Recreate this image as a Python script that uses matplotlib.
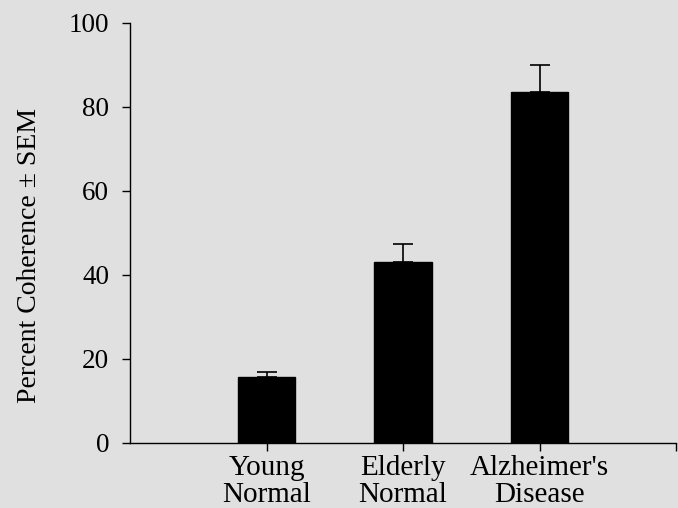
import matplotlib.pyplot as plt

groups = ['Young\nNormal', 'Elderly\nNormal', "Alzheimer's\nDisease"]
coherence = [15.7, 43.0, 83.4]
sem = [1.2, 4.3, 6.5]

bg = '#e0e0e0'
plt.rcParams['font.family'] = ['Liberation Serif', 'DejaVu Serif']

fig = plt.figure(figsize=(6.78, 5.08), dpi=100, facecolor=bg)
ax = fig.add_axes([130 / 678, 1 - 442.7 / 508, 546 / 678, 420 / 508])
ax.set_facecolor(bg)

pos = [1, 2, 3]
ax.bar(pos, coherence, width=0.42, color='black', edgecolor='black')
ax.errorbar(pos, coherence, yerr=[[0, 0, 0], sem], fmt='none',
            ecolor='black', elinewidth=1.2, capsize=7, capthick=1.2)

ax.set_xlim(0, 4)
ax.set_ylim(0, 100)
# extra unlabeled tick at the right end of the axis, as in the original
ax.set_xticks(pos + [4])
ax.set_xticklabels(groups + [''], fontsize=21, linespacing=1.05)
ax.set_yticks([0, 20, 40, 60, 80, 100])
ax.tick_params(axis='y', labelsize=19.5, length=6, width=1, pad=9)
ax.tick_params(axis='x', length=6, width=1, pad=3)
ax.set_ylabel('Percent Coherence \u00b1 SEM', fontsize=20)
ax.yaxis.set_label_coords(-0.162, 0.445)

for s in ['top', 'right']:
    ax.spines[s].set_visible(False)
ax.spines['left'].set_linewidth(1)
ax.spines['bottom'].set_linewidth(1)

fig.savefig('out.png', dpi=100, facecolor=bg)
